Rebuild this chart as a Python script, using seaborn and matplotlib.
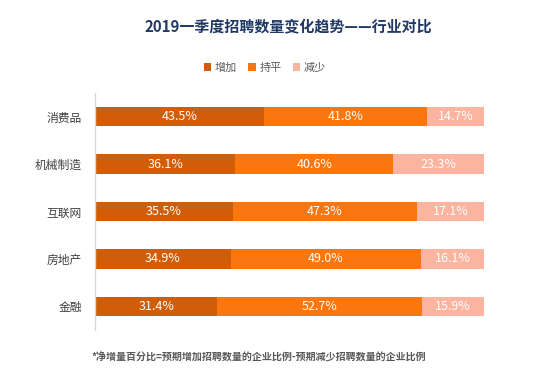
import matplotlib
matplotlib.use("Agg")
import matplotlib.pyplot as plt
import seaborn as sns
import pandas as pd
from matplotlib.patches import Patch

industries = ["消费品", "机械制造", "互联网", "房地产", "金融"]
increase = [43.5, 36.1, 35.5, 34.9, 31.4]
flat = [41.8, 40.6, 47.3, 49.0, 52.7]
decrease = [14.7, 23.3, 17.1, 16.1, 15.9]
series_names = ["增加", "持平", "减少"]
colors = ["#D05E08", "#FA760E", "#FBB4A0"]

sns.set_theme(style="white")
plt.rcParams["font.family"] = ["Noto Sans CJK SC", "DejaVu Sans"]

df = pd.DataFrame({"行业": industries, "增加": increase, "持平": flat, "减少": decrease})
df["c1"] = df["增加"]
df["c2"] = df["增加"] + df["持平"]
df["c3"] = df["c2"] + df["减少"]

fig = plt.figure(figsize=(5.54, 3.8), dpi=100)
ax = fig.add_axes([0.1715, 0.1316, 0.7021, 0.6237])

# stacked bars drawn as overlapping cumulative totals
for col, color in zip(["c3", "c2", "c1"], colors[::-1]):
    sns.barplot(data=df, x=col, y="行业", orient="h", color=color,
                width=0.41, saturation=1, ax=ax, edgecolor="none")

ax.set_xlim(0, 100)
ax.set_ylim(4.5, -0.5)
ax.set_xlabel("")
ax.set_ylabel("")
ax.set_xticks([])
ax.tick_params(axis="y", length=0, pad=9.5, labelsize=8.5, labelcolor="#404040")
for s in ["top", "right", "bottom"]:
    ax.spines[s].set_visible(False)
ax.spines["left"].set_color("#D9D9D9")
ax.spines["left"].set_linewidth(1)

for i in range(len(industries)):
    starts = [0, increase[i], increase[i] + flat[i]]
    vals = [increase[i], flat[i], decrease[i]]
    for s, v in zip(starts, vals):
        ax.text(s + v / 2, i, f"{v:.1f}%", ha="center", va="center",
                color="white", fontsize=9)

fig.text(0.52, 0.93, "2019一季度招聘数量变化趋势——行业对比", ha="center", va="center",
         fontsize=10.8, fontweight="bold", color="#203864")

handles = [Patch(facecolor=c, edgecolor="none") for c in colors]
fig.legend(handles, series_names, loc="center", bbox_to_anchor=(0.478, 0.822),
           ncol=3, frameon=False, fontsize=8, handlelength=0.7, handleheight=0.7,
           handletextpad=0.3, columnspacing=1.0, labelcolor="#595959")

fig.text(0.166, 0.058, "*净增量百分比=预期增加招聘数量的企业比例-预期减少招聘数量的企业比例",
         ha="left", va="center", fontsize=7.2, fontweight="bold", color="#595959")

fig.savefig("out.png", dpi=100)
